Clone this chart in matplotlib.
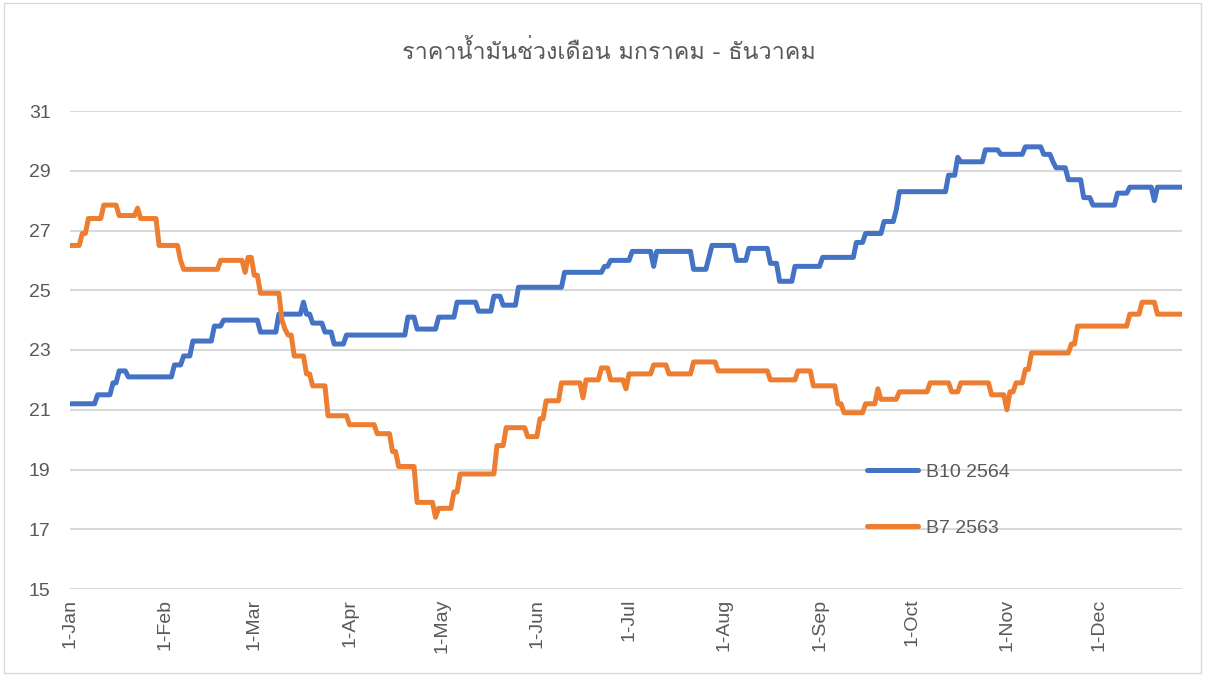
import numpy as np
import matplotlib
matplotlib.use("Agg")
import matplotlib.pyplot as plt
from matplotlib import font_manager
from matplotlib.patches import Rectangle

# =============================================================================
# Data (step changes: start day of year -> price)
# =============================================================================
last_day = 362  # data runs to about 28 Dec

b10_days = [0, 9, 14, 16, 19, 34, 37, 40, 47, 50, 62, 68, 76, 77, 79, 83, 86, 90,
            110, 113, 120, 126, 133, 138, 141, 146, 161, 174, 176, 183, 190, 191,
            203, 208, 209, 217, 221, 228, 231, 236, 245, 256, 259, 265, 269, 270,
            286, 289, 290, 298, 303, 311, 317, 320, 321, 325, 330, 333, 341, 345,
            353, 354]
b10_vals = [21.2, 21.5, 21.9, 22.3, 22.1, 22.5, 22.8, 23.3, 23.8, 24.0, 23.6, 24.2,
            24.6, 24.2, 23.9, 23.6, 23.2, 23.5, 24.1, 23.7, 24.1, 24.6, 24.3, 24.8,
            24.5, 25.1, 25.6, 25.8, 26.0, 26.3, 25.8, 26.3, 25.7, 26.1, 26.5, 26.0,
            26.4, 25.9, 25.3, 25.8, 26.1, 26.6, 26.9, 27.3, 27.7, 28.3, 28.85, 29.45,
            29.3, 29.7, 29.55, 29.8, 29.55, 29.3, 29.1, 28.7, 28.1, 27.85, 28.25,
            28.45, 28.0, 28.45]

b7_days = [0, 4, 6, 11, 16, 22, 23, 29, 36, 37, 49, 57, 58, 60, 62, 69, 70, 71, 73,
           77, 79, 84, 91, 100, 105, 107, 113, 119, 120, 125, 127, 139, 142, 149,
           153, 155, 160, 167, 168, 173, 176, 181, 182, 190, 195, 203, 211, 228,
           237, 242, 250, 252, 259, 263, 264, 270, 280, 287, 290, 300, 305, 306,
           308, 311, 313, 326, 328, 345, 349, 354]
b7_vals = [26.5, 26.9, 27.4, 27.85, 27.5, 27.75, 27.4, 26.5, 26.0, 25.7, 26.0, 25.6,
           26.1, 25.5, 24.9, 24.0, 23.7, 23.5, 22.8, 22.2, 21.8, 20.8, 20.5, 20.2,
           19.6, 19.1, 17.9, 17.4, 17.7, 18.25, 18.85, 19.8, 20.4, 20.1, 20.7, 21.3,
           21.9, 21.4, 22.0, 22.4, 22.0, 21.7, 22.2, 22.5, 22.2, 22.6, 22.3, 22.0,
           22.3, 21.8, 21.2, 20.9, 21.2, 21.7, 21.35, 21.6, 21.9, 21.6, 21.9, 21.5,
           21.0, 21.6, 21.9, 22.35, 22.9, 23.2, 23.8, 24.2, 24.6, 24.2]

month_days = [0, 31, 60, 91, 121, 152, 182, 213, 244, 274, 305, 335]
month_labels = ['1-Jan', '1-Feb', '1-Mar', '1-Apr', '1-May', '1-Jun',
                '1-Jul', '1-Aug', '1-Sep', '1-Oct', '1-Nov', '1-Dec']

title = 'ราคาน้ำมันช่วงเดือน มกราคม - ธันวาคม'
series_names = ['B10 2564', 'B7 2563']


def daily(days, vals):
    # hold each price until the next change
    lengths = np.diff(list(days) + [last_day + 1])
    return np.repeat(vals, lengths)


def thai_family():
    # pick any installed font that has Thai letters
    from fontTools.ttLib import TTFont
    for f in font_manager.fontManager.ttflist:
        try:
            font = TTFont(f.fname, fontNumber=0, lazy=True)
            cmap = font.getBestCmap()
            if cmap and 0x0E23 in cmap and 0x0E49 in cmap:
                return f.name
        except Exception:
            pass
    return None


x = np.arange(last_day + 1)
b10 = daily(b10_days, b10_vals)
b7 = daily(b7_days, b7_vals)

grey = '#595959'
base_font = 'Liberation Sans'
plt.rcParams['font.family'] = [base_font, 'DejaVu Sans']

fig = plt.figure(figsize=(12.05, 6.77), dpi=100)
ax = fig.add_axes([70 / 1205, 1 - 589 / 677, 1112 / 1205, 478 / 677])

ax.plot(x, b10, color='#4472C4', lw=3.6, solid_capstyle='round',
        solid_joinstyle='round', label=series_names[0])
ax.plot(x, b7, color='#ED7D31', lw=3.6, solid_capstyle='round',
        solid_joinstyle='round', label=series_names[1])

ax.set_xlim(0, last_day)
ax.set_ylim(15, 31)
ax.set_yticks(np.arange(15, 32, 2))
ax.set_xticks(month_days)
ax.set_xticklabels(month_labels, rotation=90, va='top', ha='center')
ax.tick_params(axis='both', length=0, labelsize=14, labelcolor=grey)
ax.tick_params(axis='y', pad=14)
ax.tick_params(axis='x', pad=7)
ax.grid(axis='y', color='#d9d9d9', lw=1.5)
ax.set_axisbelow(True)
for s in ax.spines.values():
    s.set_visible(False)

leg = ax.legend(loc='upper left', bbox_to_anchor=(0.708, 0.283), frameon=False,
                fontsize=14, handlelength=2.6, handletextpad=0.45,
                labelspacing=1.95, borderpad=0)
for t in leg.get_texts():
    t.set_color(grey)

tf = thai_family()
fams = [tf, base_font, 'DejaVu Sans'] if tf else [base_font, 'DejaVu Sans']
fig.text(0.505, 1 - 52 / 677, title, ha='center', va='center', fontsize=16.8,
         color=grey, family=fams)

fig.patches.append(Rectangle((0.003, 0.006), 0.994, 0.99, transform=fig.transFigure,
                             fill=False, edgecolor='#d9d9d9', lw=1))

fig.savefig('out.png', dpi=100)
